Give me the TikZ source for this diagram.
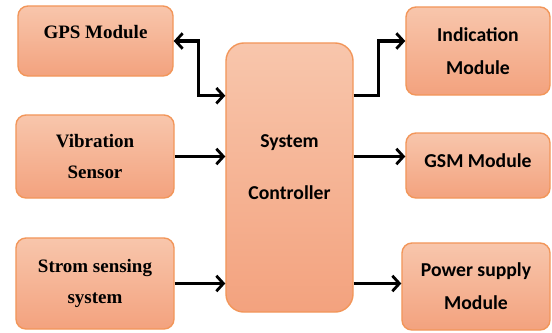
\documentclass[tikz,border=0pt]{standalone}
\usepackage{fontspec}
\setmainfont{Liberation Serif}
\newfontfamily\carlito{Carlito}
\usetikzlibrary{arrows.meta}
\definecolor{boxtop}{HTML}{F8C6AC}
\definecolor{boxbot}{HTML}{F3A27E}
\definecolor{boxedge}{HTML}{F2965A}
\begin{document}
\begin{tikzpicture}
    [
    x=0.025cm,y=-0.025cm,
    block/.style={rectangle,rounded corners=0.25cm,draw=boxedge,line width=1pt,top color=boxtop,bottom color=boxbot,inner sep=0pt},
    serifblock/.style={block,font={\fontsize{13.5pt}{22pt}\selectfont\bfseries}},
    sansblock/.style={block,font={\fontsize{14pt}{23.4pt}\selectfont\carlito\bfseries}},
    link/.style={line width=2.2pt,-{Straight Barb[length=5pt,width=11pt,line width=2pt]}}
    ]
    \useasboundingbox (0,0) rectangle (552,332);
    % inputs on the left
    \node (gps) at (95.5,41) [serifblock,minimum width=3.875cm,minimum height=1.75cm] {\raisebox{0.075cm}[0pt][0pt]{GPS Module}};
    \node (vib) at (95,156.5) [serifblock,align=center,minimum width=3.95cm,minimum height=2.075cm] {Vibration\\Sensor};
    \node (strom) at (95,283.5) [serifblock,align=center,minimum width=3.95cm,minimum height=2.275cm] {Strom sensing\\system};
    % controller in the middle
    \node (ctrl) at (289.5,177.5) [sansblock,rounded corners=0.45cm,minimum width=3.175cm,minimum height=6.725cm]
      {\raisebox{0.14cm}[0pt][0pt]{\begin{tabular}{@{}c@{}}System\\[13.5pt]Controller\end{tabular}}};
    % outputs on the right
    \node (ind) at (478,51) [sansblock,align=center,minimum width=3.6cm,minimum height=2.2cm] {Indication\\Module};
    \node (gsm) at (478,165.5) [sansblock,minimum width=3.6cm,minimum height=1.625cm] {\raisebox{-0.05cm}[0pt][0pt]{GSM Module}};
    \node (pwr) at (476,286.5) [sansblock,align=center,minimum width=3.7cm,minimum height=2.175cm] {Power supply\\Module};
    \draw [link,{Straight Barb[length=5pt,width=11pt,line width=2pt]}-{Straight Barb[length=5pt,width=11pt,line width=2pt]}]
      (gps.east) -- ++(25,0) |- (ctrl.west |- ind.south);
    \draw [link] (vib.east) -- (vib.east -| ctrl.west);
    \draw [link] (strom.east) -- (strom.east -| ctrl.west);
    \draw [link] (ctrl.east |- ind.south) -- ++(25,0) |- (ind.west |- gps.east);
    \draw [link] (ctrl.east |- vib.east) -- (gsm.west |- vib.east);
    \draw [link] (ctrl.east |- strom.east) -- (pwr.west |- strom.east);
  \end{tikzpicture}
\end{document}
